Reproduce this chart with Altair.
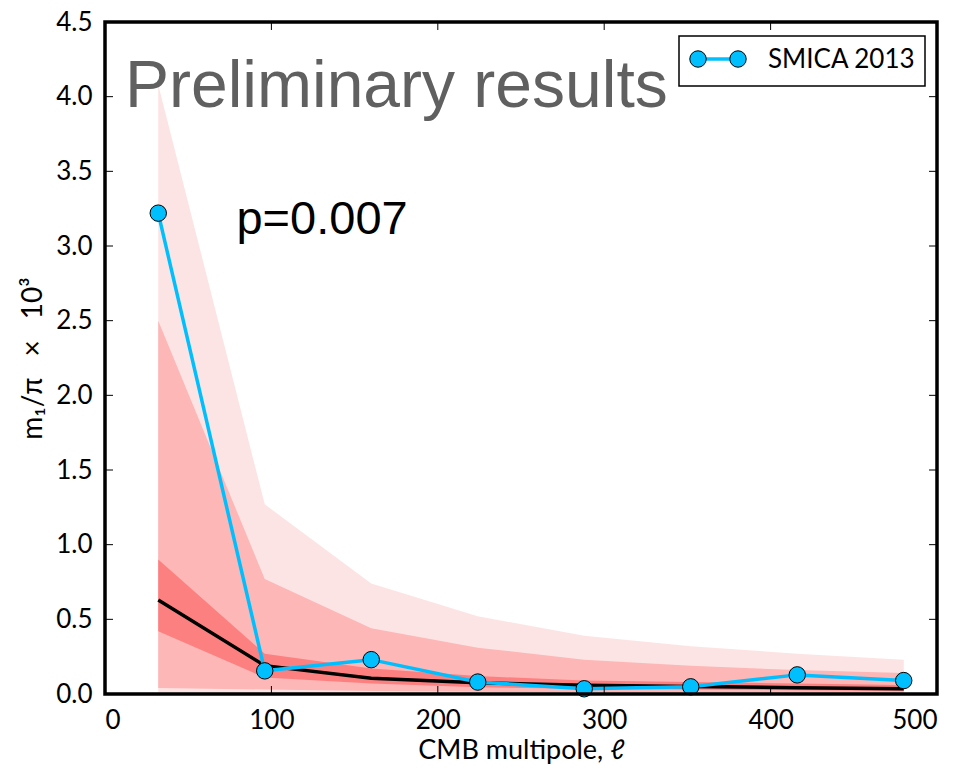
import altair as alt
import pandas as pd

# multipole bin centres
ell = [32, 96, 160, 224, 288, 352, 416, 480]
# SMICA 2013 measurement
smica = [3.22, 0.155, 0.23, 0.08, 0.035, 0.048, 0.128, 0.09]
# simulation mean
mean_sim = [0.63, 0.19, 0.105, 0.075, 0.058, 0.05, 0.042, 0.035]
# confidence bands (inner, middle, outer)
lo1 = [0.42, 0.11, 0.07, 0.045, 0.035, 0.03, 0.025, 0.02]
hi1 = [0.90, 0.27, 0.17, 0.12, 0.09, 0.08, 0.07, 0.06]
lo2 = [0.04, 0.03, 0.02, 0.015, 0.012, 0.01, 0.01, 0.01]
hi2 = [2.50, 0.77, 0.44, 0.31, 0.23, 0.19, 0.16, 0.14]
lo3 = [0.01, 0.005, 0.004, 0.003, 0.003, 0.003, 0.003, 0.003]
hi3 = [4.08, 1.27, 0.74, 0.52, 0.39, 0.32, 0.27, 0.23]

x_ticks = [0, 100, 200, 300, 400, 500]
y_ticks = [0.0, 0.5, 1.0, 1.5, 2.0, 2.5, 3.0, 3.5, 4.0, 4.5]

W, H = 832, 672
FONT = "Lato"

df = pd.DataFrame({"ell": ell, "smica": smica, "mean": mean_sim,
                   "lo1": lo1, "hi1": hi1, "lo2": lo2, "hi2": hi2,
                   "lo3": lo3, "hi3": hi3})

xs = alt.Scale(domain=[0, 500], nice=False)
ys = alt.Scale(domain=[0, 4.5], nice=False)

xax = alt.Axis(values=x_ticks, format="d", ticks=False, domain=False, grid=False,
               labelFont=FONT, labelFontSize=26, labelColor="black", labelPadding=13,
               title="CMB multipole, ℓ", titleFont=FONT, titleFontSize=27,
               titleFontWeight="normal", titleColor="black", titlePadding=4)
yax = alt.Axis(values=y_ticks, format=".1f", ticks=False, domain=False, grid=False,
               labelFont=FONT, labelFontSize=26, labelColor="black", labelPadding=13,
               title="m₁/π\u2003×\u200310³", titleFont=FONT, titleFontSize=28,
               titleFontWeight="normal", titleColor="black", titlePadding=8)

base = alt.Chart(df)

band3 = base.mark_area(color="#FDE4E4", opacity=1).encode(
    x=alt.X("ell:Q", scale=xs, axis=xax), y=alt.Y("lo3:Q", scale=ys, axis=yax), y2="hi3:Q")
band2 = base.mark_area(color="#FDB7B7", opacity=1).encode(
    x=alt.X("ell:Q", scale=xs), y=alt.Y("lo2:Q", scale=ys), y2="hi2:Q")
band1 = base.mark_area(color="#FD8080", opacity=1).encode(
    x=alt.X("ell:Q", scale=xs), y=alt.Y("lo1:Q", scale=ys), y2="hi1:Q")

mean_line = base.mark_line(color="black", strokeWidth=3.5).encode(
    x=alt.X("ell:Q", scale=xs), y=alt.Y("mean:Q", scale=ys))

smica_line = base.mark_line(color="#00BFFF", strokeWidth=3.5).encode(
    x=alt.X("ell:Q", scale=xs), y=alt.Y("smica:Q", scale=ys))
smica_pts = base.mark_point(shape="circle", filled=True, fill="#00BFFF", stroke="black",
                            strokeWidth=1, size=270, opacity=1).encode(
    x=alt.X("ell:Q", scale=xs), y=alt.Y("smica:Q", scale=ys))

# inward ticks on all four sides
xt = pd.DataFrame({"t": x_ticks})
yt = pd.DataFrame({"t": y_ticks})
tick_b = alt.Chart(xt).mark_rule(color="black", strokeWidth=1).encode(
    x=alt.X("t:Q", scale=xs), y=alt.value(H), y2=alt.value(H - 8))
tick_t = alt.Chart(xt).mark_rule(color="black", strokeWidth=1).encode(
    x=alt.X("t:Q", scale=xs), y=alt.value(0), y2=alt.value(8))
tick_l = alt.Chart(yt).mark_rule(color="black", strokeWidth=1).encode(
    y=alt.Y("t:Q", scale=ys), x=alt.value(0), x2=alt.value(8))
tick_r = alt.Chart(yt).mark_rule(color="black", strokeWidth=1).encode(
    y=alt.Y("t:Q", scale=ys), x=alt.value(W), x2=alt.value(W - 8))

# annotations
ann = pd.DataFrame({"x": [12, 79], "y": [3.93, 3.08],
                    "txt": ["Preliminary results", "p=0.007"]})
prelim = alt.Chart(ann.iloc[[0]]).mark_text(
    font="Liberation Sans", fontSize=66, color="#606060", align="left", baseline="alphabetic").encode(
    x=alt.X("x:Q", scale=xs), y=alt.Y("y:Q", scale=ys), text="txt:N")
pval = alt.Chart(ann.iloc[[1]]).mark_text(
    font="Liberation Sans", fontSize=47, color="black", align="left", baseline="alphabetic").encode(
    x=alt.X("x:Q", scale=xs), y=alt.Y("y:Q", scale=ys), text="txt:N")

# legend (drawn by hand)
one = pd.DataFrame({"label": ["SMICA 2013"]})
leg_box = alt.Chart(one).mark_rect(fill="white", stroke="black", strokeWidth=1.5).encode(
    x=alt.value(574), x2=alt.value(820), y=alt.value(14), y2=alt.value(64))
leg_line = alt.Chart(one).mark_rule(color="#00BFFF", strokeWidth=3.5).encode(
    x=alt.value(593), x2=alt.value(633), y=alt.value(37))
leg_pts = alt.Chart(pd.DataFrame({"px": [593, 633]})).mark_point(
    shape="circle", filled=True, fill="#00BFFF", stroke="black", strokeWidth=1,
    size=270, opacity=1).encode(x=alt.X("px:Q", scale=None), y=alt.value(37))
leg_txt = alt.Chart(one).mark_text(font=FONT, fontSize=26, color="black", align="left",
                                   baseline="middle").encode(
    x=alt.value(663), y=alt.value(38), text="label:N")

# thick plot frame on top
frame = alt.Chart(one).mark_rect(fill=None, stroke="black", strokeWidth=3.5).encode(
    x=alt.value(0), x2=alt.value(W), y=alt.value(0), y2=alt.value(H))

chart = alt.layer(band3, band2, band1, mean_line, smica_line, smica_pts,
                  tick_b, tick_t, tick_l, tick_r, prelim, pval,
                  leg_box, leg_line, leg_pts, leg_txt, frame).properties(
    width=W, height=H,
    background="white",
    autosize=alt.AutoSizeParams(type="none"),
    padding={"left": 105, "top": 22, "right": 28, "bottom": 77},
).configure_view(stroke=None)

chart.save("out.html", embed_options={"renderer": "svg", "actions": False})
